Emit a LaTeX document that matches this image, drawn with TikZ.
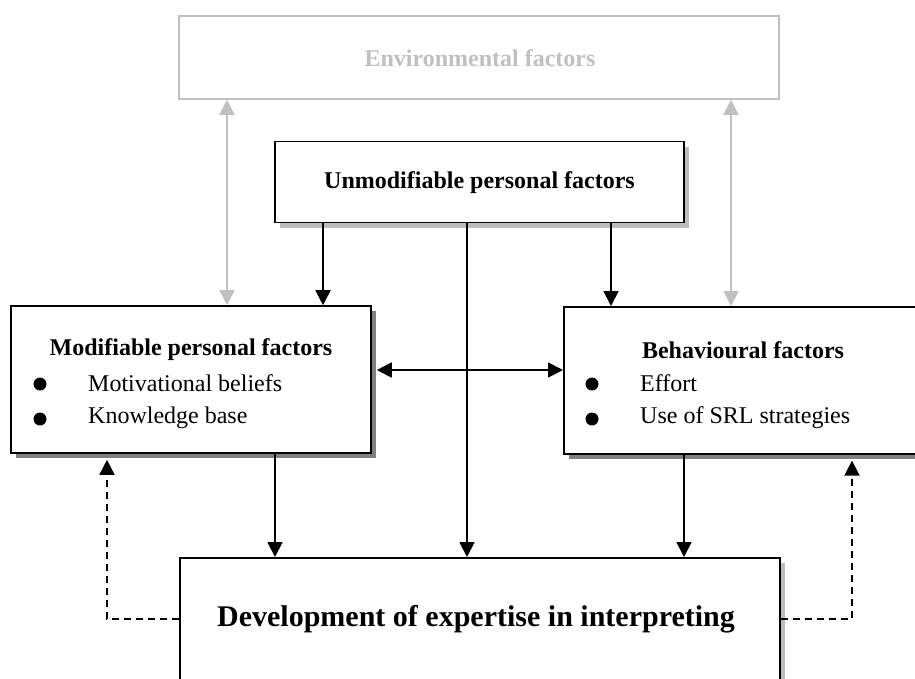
\documentclass[tikz,border=0pt]{standalone}
\usepackage{fontspec}
\setmainfont{Liberation Serif}
\usetikzlibrary{arrows.meta,shadows,calc}
\definecolor{envgray}{HTML}{C0C0C0}
\definecolor{darkshadow}{HTML}{808080}
\definecolor{lightshadow}{HTML}{BDBDBD}
\tikzset{
  box/.style={draw=black, line width=1.6pt, fill=white, inner sep=0pt},
  darkshade/.style={drop shadow={shadow xshift=5pt, shadow yshift=-5pt, fill=darkshadow, opacity=1}},
  lightshade/.style={drop shadow={shadow xshift=5pt, shadow yshift=-5pt, fill=lightshadow, opacity=1}},
  envbox/.style={draw=envgray, line width=1.6pt, fill=white, inner sep=0pt},
  heading/.style={font=\fontsize{24}{28}\selectfont\bfseries, inner sep=0pt},
  item/.style={font=\fontsize{24}{28}\selectfont, anchor=west, inner sep=0pt},
  bigtext/.style={font=\fontsize{30}{35}\selectfont\bfseries, inner sep=0pt},
  bulletdot/.style={circle, fill=black, minimum size=13pt, inner sep=0pt},
  flow/.style={line width=1.8pt, -{Triangle[length=15pt,width=15pt]}},
  twoway/.style={line width=1.8pt, {Triangle[length=15pt,width=15pt]}-{Triangle[length=15pt,width=15pt]}},
  envlink/.style={draw=envgray, line width=1.8pt, {Triangle[length=15pt,width=15pt]}-{Triangle[length=15pt,width=15pt]}},
  feedback/.style={line width=1.6pt, dash pattern=on 7pt off 5pt, -{Triangle[length=15pt,width=15pt]}}
}
\begin{document}
\begin{tikzpicture}[x=1pt,y=-1pt]
\clip (0,0) rectangle (915,678);
\fill[white] (0,0) rectangle (915,678);

% boxes
\node[envbox, minimum width=600pt, minimum height=83pt] (env) at (479,57.5) {};
\node[heading, text=envgray] (envt) at (480,58) {Environmental factors};

\node[box, lightshade, minimum width=409pt, minimum height=81pt] (unmod) at (479.5,182) {};
\node[heading] (unmodt) at (479.5,183) {Unmodifiable personal factors};

\node[box, darkshade, minimum width=360pt, minimum height=147pt] (mod) at (191,379.5) {};
\node[heading] (modt) at (191,350) {Modifiable personal factors};
\node[bulletdot] (mb1) at (40,384) {};
\node[bulletdot] (mb2) at (40,419) {};
\node[item] (mi1) at (88,383) {Motivational beliefs};
\node[item] (mi2) at (88,418) {Knowledge base};

\node[box, darkshade, minimum width=380pt, minimum height=147pt, anchor=north west] (beh) at (563,306) {};
\node[heading] (beht) at (743,350) {Behavioural factors};
\node[bulletdot] (bb1) at (592,384) {};
\node[bulletdot] (bb2) at (592,419) {};
\node[item] (bi1) at (640,383) {Effort};
\node[item] (bi2) at (640,418) {Use of SRL strategies};

\node[box, lightshade, minimum width=600pt, minimum height=160pt, anchor=north west] (dev) at (179,557) {};
\node[bigtext] (devt) at (476,619) {Development of expertise in interpreting};

% guide coordinates for the connector columns and rows
\coordinate (gl) at (227,0);
\coordinate (gr) at (731,0);
\coordinate (ul) at (323,0);
\coordinate (um) at (467,0);
\coordinate (ur) at (611,0);
\coordinate (ml) at (275,0);
\coordinate (br) at (684,0);
\coordinate (hy) at (0,370);
\coordinate (fy) at (0,619);
\coordinate (fl) at (107,619);
\coordinate (fr) at (852,619);

% environmental links
\draw[envlink] (env.south -| gl) -- (mod.north -| gl);
\draw[envlink] (env.south -| gr) -- (beh.north -| gr);

% unmodifiable factors
\draw[flow] (unmod.south -| ul) -- (mod.north -| ul);
\draw[flow] (unmod.south -| um) -- (dev.north -| um);
\draw[flow] (unmod.south -| ur) -- (beh.north -| ur);

% modifiable <-> behavioural
\draw[twoway] ([xshift=5pt]mod.east |- hy) -- (beh.west |- hy);

% into development
\draw[flow] (mod.south -| ml) -- (dev.north -| ml);
\draw[flow] (beh.south -| br) -- (dev.north -| br);

% feedback loops
\draw[feedback] (dev.west |- fy) -- (fl) -- ([yshift=-6pt]mod.south -| fl);
\draw[feedback] (dev.east |- fy) -- (fr) -- ([yshift=-6pt]beh.south -| fr);
\end{tikzpicture}
\end{document}
